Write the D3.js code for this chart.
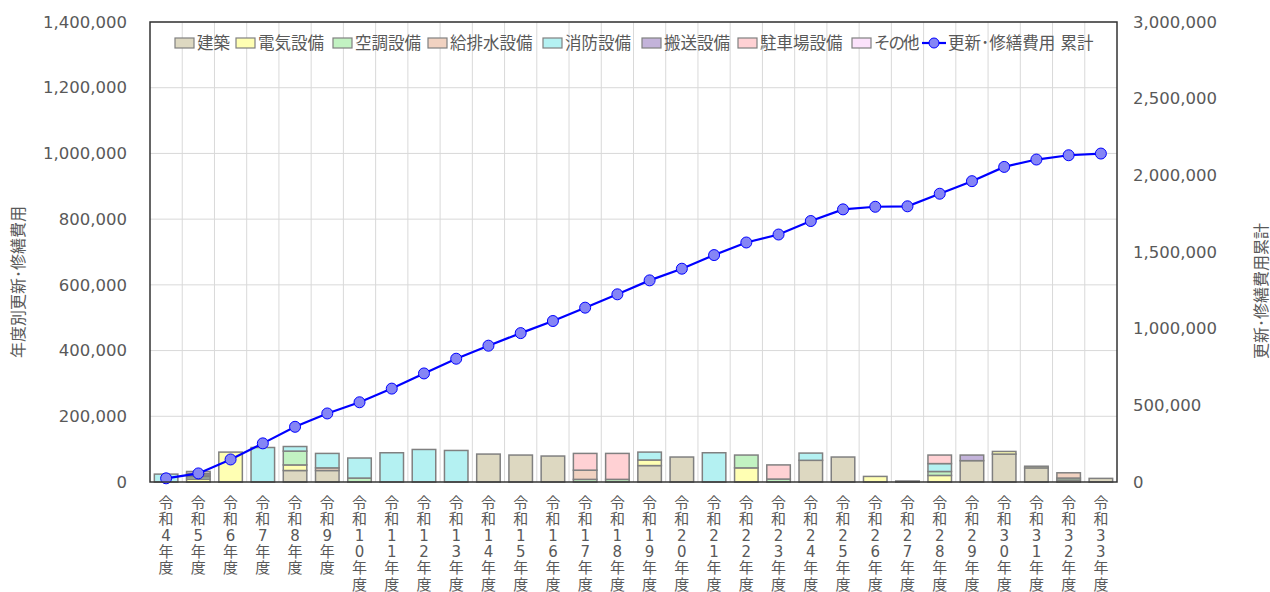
<!DOCTYPE html>
<html lang="ja">
<head>
<meta charset="utf-8">
<script src="https://cdn.jsdelivr.net/npm/d3@7"></script>
<style>
  html, body { margin: 0; padding: 0; background: #fff; }
  svg { display: block; font-family: "DejaVu Sans", "Noto Sans CJK JP", sans-serif; }
</style>
</head>
<body>
<svg id="chart" width="1270" height="592"></svg>
<script>
// 年度
const categories = [
  "令和4年度","令和5年度","令和6年度","令和7年度","令和8年度","令和9年度",
  "令和10年度","令和11年度","令和12年度","令和13年度","令和14年度","令和15年度",
  "令和16年度","令和17年度","令和18年度","令和19年度","令和20年度","令和21年度",
  "令和22年度","令和23年度","令和24年度","令和25年度","令和26年度","令和27年度",
  "令和28年度","令和29年度","令和30年度","令和31年度","令和32年度","令和33年度"
];

// 区分別 更新・修繕費用
const kenchiku  = [0,0,0,0,35000,35000,0,0,0,0,85000,82000,79000,0,0,50000,76000,0,0,0,66000,76000,0,3000,0,65000,85000,43000,0,11000];
const denki     = [0,9000,91000,0,17000,0,0,0,0,0,0,0,0,0,0,17000,0,0,43000,0,0,0,17000,0,20000,0,8000,5000,6000,0];
const kucho     = [0,7000,0,0,42000,0,12000,0,0,0,0,0,0,8000,8000,0,0,0,39000,9000,0,0,0,0,12000,0,0,0,6000,0];
const kyuhaisui = [0,5000,0,0,0,8000,0,0,0,0,0,0,0,28000,0,0,0,0,0,0,0,0,0,0,0,0,0,0,16000,0];
const shobo     = [24000,0,0,105000,14000,44000,61000,89000,99000,96000,0,0,0,0,0,24000,0,89000,0,0,22000,0,0,0,24000,0,0,0,0,0];
const hanso     = [0,5000,0,0,0,0,0,0,0,0,0,0,0,0,0,0,0,0,0,0,0,0,0,0,0,17000,0,0,0,0];
const chushajo  = [0,0,0,0,0,0,0,0,0,0,0,0,0,51000,79000,0,0,0,0,43000,0,0,0,0,26000,0,0,0,0,0];
const sonota    = [0,6000,0,0,0,0,0,0,0,0,0,0,0,0,0,0,0,0,0,0,0,0,0,0,0,0,0,0,0,0];

const seriesNames = ["建築","電気設備","空調設備","給排水設備","消防設備","搬送設備","駐車場設備","その他"];
const seriesData  = [kenchiku, denki, kucho, kyuhaisui, shobo, hanso, chushajo, sonota];
const seriesColors = ["#ddd8c1","#ffffb3","#c2f2c2","#f1d2c1","#b4f1f2","#c3b3da","#ffd1d4","#fbe2fb"];
const lineName = "更新･修繕費用 累計";
const leftTitle = "年度別更新･修繕費用";
const rightTitle = "更新･修繕費用累計";

const leftTicks  = [0,200000,400000,600000,800000,1000000,1200000,1400000];
const rightTicks = [0,500000,1000000,1500000,2000000,2500000,3000000];

// 集計表
const rows = categories.map((c, i) => {
  const r = { category: c };
  seriesNames.forEach((n, k) => { r[n] = seriesData[k][i]; });
  return r;
});
const totals = rows.map(r => d3.sum(seriesNames, n => r[n]));
const cumulative = Array.from(d3.cumsum(totals));

const svg = d3.select("#chart");
const W = 1270, H = 592;
const plot = { left: 150, right: 1117, top: 22, bottom: 482 };
const textColor = "#595959";
const fontStack = '"DejaVu Sans", "Noto Sans CJK JP", sans-serif';

svg.append("rect").attr("width", W).attr("height", H).attr("fill", "#fff");

const x = d3.scaleBand()
  .domain(categories)
  .range([plot.left, plot.right])
  .paddingInner(0.27)
  .paddingOuter(0.135);
const yL = d3.scaleLinear().domain([0, 1400000]).range([plot.bottom, plot.top]);
const yR = d3.scaleLinear().domain([0, 3000000]).range([plot.bottom, plot.top]);

// グリッド
const grid = svg.append("g");
grid.selectAll("line.h").data(leftTicks.slice(1)).join("line")
  .attr("x1", plot.left).attr("x2", plot.right)
  .attr("y1", d => yL(d)).attr("y2", d => yL(d))
  .attr("stroke", "#d9d9d9").attr("stroke-width", 1);
const step = x.step();
grid.selectAll("line.v").data(d3.range(1, categories.length)).join("line")
  .attr("x1", d => plot.left + d * step).attr("x2", d => plot.left + d * step)
  .attr("y1", plot.top).attr("y2", plot.bottom)
  .attr("stroke", "#d9d9d9").attr("stroke-width", 1);

// 積み上げ棒
const stacked = d3.stack().keys(seriesNames)(rows);
svg.append("g").selectAll("g").data(stacked).join("g")
  .attr("fill", (d, i) => seriesColors[i])
  .selectAll("rect").data(d => d.filter(s => s[1] - s[0] > 0)).join("rect")
  .attr("x", d => x(d.data.category))
  .attr("width", x.bandwidth())
  .attr("y", d => yL(d[1]))
  .attr("height", d => yL(d[0]) - yL(d[1]))
  .attr("stroke", "#808080")
  .attr("stroke-width", 1.5);

// 累計線
const cx = c => x(c) + x.bandwidth() / 2;
const line = d3.line().x((d, i) => cx(categories[i])).y(d => yR(d));
svg.append("path").datum(cumulative)
  .attr("d", line).attr("fill", "none")
  .attr("stroke", "#0000ff").attr("stroke-width", 2.2);
svg.append("g").selectAll("circle").data(cumulative).join("circle")
  .attr("cx", (d, i) => cx(categories[i]))
  .attr("cy", d => yR(d))
  .attr("r", 5.5)
  .attr("fill", "#8585f5").attr("stroke", "#0000ff").attr("stroke-width", 1);

// 枠
svg.append("rect")
  .attr("x", plot.left).attr("y", plot.top)
  .attr("width", plot.right - plot.left).attr("height", plot.bottom - plot.top)
  .attr("fill", "none").attr("stroke", "#333").attr("stroke-width", 1.5);

// 左軸
const fmt = d3.format(",");
const axL = svg.append("g").attr("transform", `translate(${plot.left},0)`)
  .call(d3.axisLeft(yL).tickValues(leftTicks).tickFormat(fmt).tickSize(0).tickPadding(23));
axL.select(".domain").remove();
axL.selectAll("text").attr("fill", textColor).style("font-size", "16.5px").style("font-family", fontStack);

// 右軸
const axR = svg.append("g").attr("transform", `translate(${plot.right},0)`)
  .call(d3.axisRight(yR).tickValues(rightTicks).tickFormat(fmt).tickSize(0).tickPadding(16));
axR.select(".domain").remove();
axR.selectAll("text").attr("fill", textColor).style("font-size", "16.5px").style("font-family", fontStack);

// 横軸ラベル(縦書き)
const xl = svg.append("g");
categories.forEach(c => {
  const t = xl.append("text")
    .attr("x", cx(c)).attr("y", 508)
    .attr("text-anchor", "middle")
    .attr("fill", textColor).style("font-size", "15px");
  Array.from(c).forEach((ch, k) => {
    t.append("tspan").attr("x", cx(c)).attr("dy", k === 0 ? 0 : 16.3).text(ch);
  });
});

// 軸タイトル
svg.append("text")
  .attr("transform", "translate(24,282) rotate(-90)")
  .attr("text-anchor", "middle").attr("fill", textColor)
  .style("font-size", "16px").text(leftTitle);
svg.append("text")
  .attr("transform", "translate(1267,291) rotate(-90)")
  .attr("text-anchor", "middle").attr("fill", textColor)
  .style("font-size", "16px").text(rightTitle);

// 凡例
const legendX = [175, 236, 333, 428, 543, 642, 738, 852];
const lg = svg.append("g");
seriesNames.forEach((n, i) => {
  lg.append("rect")
    .attr("x", legendX[i]).attr("y", 38).attr("width", 19).attr("height", 10)
    .attr("fill", seriesColors[i]).attr("stroke", "#808080").attr("stroke-width", 1.2);
  lg.append("text")
    .attr("x", legendX[i] + 22).attr("y", 49)
    .attr("fill", textColor).style("font-size", "16.5px")
    .style("letter-spacing", n === "その他" ? "-2px" : null)
    .text(n);
});
lg.append("line").attr("x1", 922).attr("x2", 946).attr("y1", 43).attr("y2", 43)
  .attr("stroke", "#0000ff").attr("stroke-width", 2.2);
lg.append("circle").attr("cx", 934).attr("cy", 43).attr("r", 5)
  .attr("fill", "#8585f5").attr("stroke", "#0000ff").attr("stroke-width", 1);
lg.append("text").attr("x", 948).attr("y", 49)
  .attr("fill", textColor).style("font-size", "16.5px").text(lineName);
</script>
</body>
</html>
